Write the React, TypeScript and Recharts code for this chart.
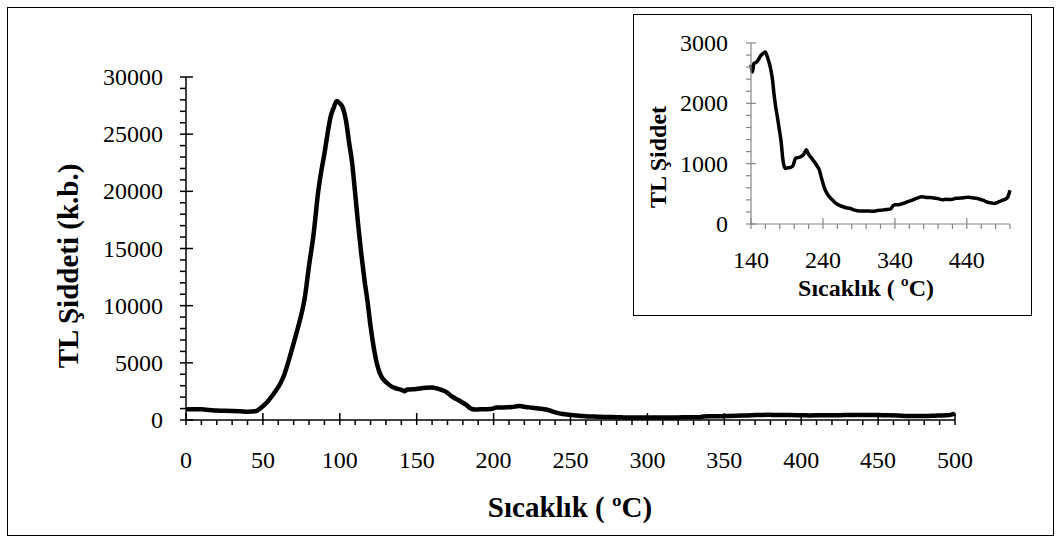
import { Line, LineChart, XAxis, YAxis } from "recharts";

// TL glow curve, temperature (°C) vs intensity (k.b.)
const temps = [
  0, 5, 10, 15, 20, 25, 30, 35, 40, 45, 49, 53, 57, 61, 64, 67, 71, 74, 77, 80,
  83, 86, 88, 90, 92, 94, 96, 98, 100, 102, 104, 106, 108, 110, 112, 114, 116, 118, 120, 122,
  124, 126, 128, 131, 134, 137, 140, 142, 144, 147, 150, 153, 156, 160, 163, 166, 168, 170, 172, 174,
  177, 179, 182, 184, 186, 188, 191, 195, 198, 202, 205, 209, 212, 214, 217, 219, 221, 225, 228, 232,
  235, 238, 242, 245, 249, 254, 258, 263, 267, 272, 277, 283, 290, 297, 304, 310, 316, 323, 329, 334,
  337, 340, 345, 351, 358, 365, 371, 378, 385, 392, 400, 406, 411, 418, 425, 432, 438, 443, 450, 457,
  463, 469, 474, 478, 483, 487, 491, 494, 497, 500,
];
const intensity = [
  950, 940, 930, 880, 830, 800, 780, 760, 730, 760, 1100, 1600, 2300, 3100, 4000, 5300, 7200, 8700, 10500, 13500,
  16300, 20000, 21800, 23300, 25000, 26500, 27300, 27900, 27700, 27300, 26200, 24300, 22500, 19800, 17000, 14500, 12300, 10400, 8200, 6400,
  5000, 4100, 3600, 3200, 2900, 2750, 2640, 2520, 2660, 2680, 2720, 2780, 2820, 2850, 2760, 2640, 2530, 2380, 2150, 1970,
  1750, 1590, 1350, 1100, 960, 920, 930, 940, 960, 1090, 1100, 1115, 1140, 1170, 1230, 1180, 1140, 1080, 1030, 960,
  895, 760, 600, 520, 450, 390, 340, 310, 290, 270, 260, 235, 215, 215, 215, 210, 225, 230, 240, 250,
  300, 320, 320, 340, 370, 400, 430, 450, 440, 435, 420, 400, 410, 405, 425, 430, 440, 445, 430, 415,
  390, 360, 350, 340, 360, 380, 400, 415, 450, 560,
];

const mainXTicks = Array.from({ length: 51 }, (_, i) => i * 10);
const mainYTicks = Array.from({ length: 31 }, (_, i) => i * 1000);
const insetXTicks = Array.from({ length: 19 }, (_, i) => 140 + i * 20);
const insetYTicks = Array.from({ length: 16 }, (_, i) => i * 200);

const data = temps.map((t, i) => ({ t, v: intensity[i] }));
const insetData = data.filter((d) => d.t >= 140);

const FONT = '"Liberation Serif", "Times New Roman", Times, serif';
const tickText: React.CSSProperties = { fontFamily: FONT, fontSize: 24, fill: "#000" };

const MainXTick = ({ x, y, payload }: any) => {
  const major = payload.value % 50 === 0;
  return (
    <g>
      <line x1={x} x2={x} y1={major ? y - 7 : y} y2={y + 5} stroke="#000" strokeWidth={1.5} />
      {major && (
        <text x={x} y={y + 48} textAnchor="middle" style={tickText}>
          {payload.value}
        </text>
      )}
    </g>
  );
};

const MainYTick = ({ x, y, payload }: any) => {
  const major = payload.value % 5000 === 0;
  return (
    <g>
      <line x1={x - 6} x2={major ? x + 7 : x} y1={y} y2={y} stroke="#000" strokeWidth={1.5} />
      {major && (
        <text x={x - 23} y={y + 8} textAnchor="end" style={tickText}>
          {payload.value}
        </text>
      )}
    </g>
  );
};

const InsetXTick = ({ x, y, payload }: any) => {
  const major = (payload.value - 140) % 100 === 0;
  return (
    <g>
      <line x1={x} x2={x} y1={major ? y - 6 : y} y2={y + 5} stroke="#868686" strokeWidth={1.2} />
      {major && (
        <text x={x} y={y + 44} textAnchor="middle" style={tickText}>
          {payload.value}
        </text>
      )}
    </g>
  );
};

const InsetYTick = ({ x, y, payload }: any) => {
  const major = payload.value % 1000 === 0;
  return (
    <g>
      <line x1={x - 5} x2={major ? x + 5 : x} y1={y} y2={y} stroke="#868686" strokeWidth={1.2} />
      {major && (
        <text x={x - 23} y={y + 8} textAnchor="end" style={tickText}>
          {payload.value}
        </text>
      )}
    </g>
  );
};

const title = (size: number): React.CSSProperties => ({
  position: "absolute",
  fontFamily: FONT,
  fontWeight: "bold",
  fontSize: size,
  lineHeight: 1,
  whiteSpace: "nowrap",
  color: "#000",
});

export default function App() {
  return (
    <div style={{ position: "absolute", left: 0, top: 0, width: 1061, height: 543, background: "#fff", overflow: "hidden" }}>
      <div style={{ position: "absolute", left: 7, top: 7, width: 1045, height: 527, border: "1.5px solid #000" }} />

      <div style={{ position: "absolute", left: 0, top: 0 }}>
        <LineChart width={1061} height={543} data={data} margin={{ top: 77, right: 106, bottom: 93, left: 126 }}>
          <XAxis
            dataKey="t"
            type="number"
            domain={[0, 500]}
            ticks={mainXTicks}
            interval={0}
            height={30}
            tickSize={0}
            tickMargin={0}
            tickLine={false}
            axisLine={{ stroke: "#000", strokeWidth: 1.5 }}
            tick={<MainXTick />}
          />
          <YAxis
            type="number"
            domain={[0, 30000]}
            ticks={mainYTicks}
            interval={0}
            width={60}
            tickSize={0}
            tickMargin={0}
            tickLine={false}
            axisLine={{ stroke: "#000", strokeWidth: 1.5 }}
            tick={<MainYTick />}
          />
          <Line type="monotone" dataKey="v" stroke="#000" strokeWidth={4.5} dot={false} isAnimationActive={false} />
        </LineChart>
      </div>

      <div style={{ ...title(29), left: 570, top: 507, transform: "translate(-50%, -50%)" }}>Sıcaklık ( ºC)</div>
      <div style={{ ...title(29), left: 68, top: 266, transform: "translate(-50%, -50%) rotate(-90deg)" }}>TL Şiddeti (k.b.)</div>

      <div style={{ position: "absolute", left: 633, top: 14, width: 397, height: 300, border: "1.5px solid #000", background: "#fff" }} />
      <div style={{ position: "absolute", left: 633, top: 14 }}>
        <LineChart width={399} height={303} data={insetData} margin={{ top: 29, right: 22, bottom: 63, left: 58 }}>
          <XAxis
            dataKey="t"
            type="number"
            domain={[140, 500]}
            ticks={insetXTicks}
            interval={0}
            height={30}
            tickSize={0}
            tickMargin={0}
            tickLine={false}
            axisLine={{ stroke: "#868686", strokeWidth: 1.2 }}
            tick={<InsetXTick />}
          />
          <YAxis
            type="number"
            domain={[0, 3000]}
            ticks={insetYTicks}
            interval={0}
            width={60}
            tickSize={0}
            tickMargin={0}
            tickLine={false}
            axisLine={{ stroke: "#868686", strokeWidth: 1.2 }}
            tick={<InsetYTick />}
          />
          <Line type="monotone" dataKey="v" stroke="#000" strokeWidth={3.5} dot={false} isAnimationActive={false} />
        </LineChart>
      </div>
      <div style={{ ...title(24), left: 866, top: 288, transform: "translate(-50%, -50%)" }}>Sıcaklık ( ºC)</div>
      <div style={{ ...title(24), left: 658, top: 157, transform: "translate(-50%, -50%) rotate(-90deg)" }}>TL Şiddet</div>
    </div>
  );
}
